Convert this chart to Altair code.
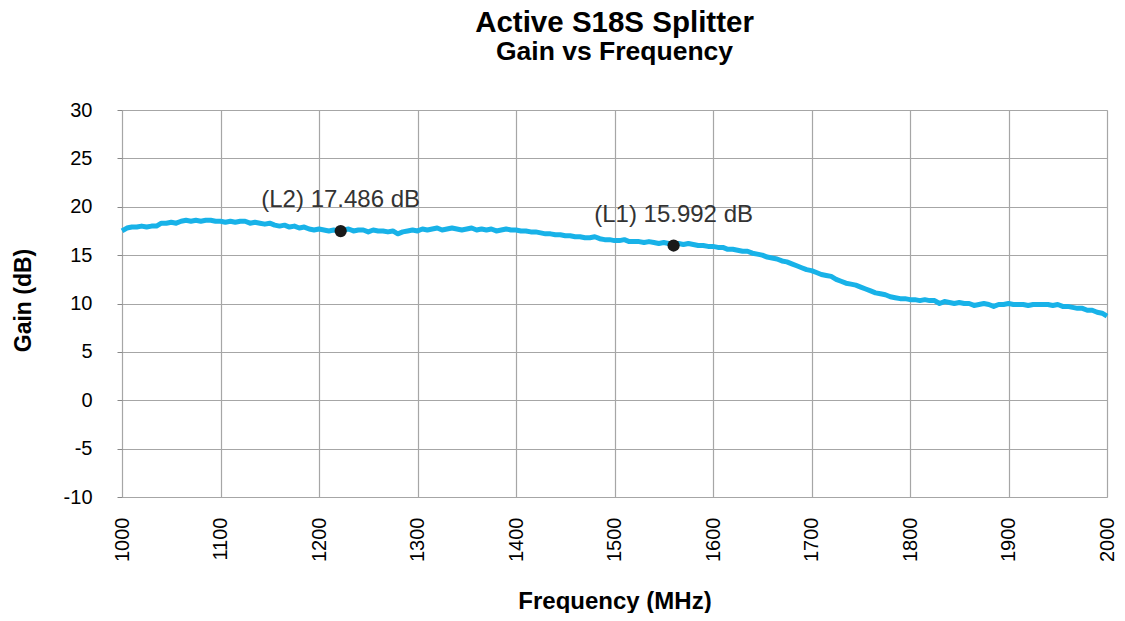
import altair as alt
import pandas as pd

freq = list(range(1000, 2001, 5))
gain = [
    # 1000-1100
    17.5, 17.8, 17.9, 17.9, 18.0, 17.9, 18.0, 18.0, 18.3, 18.3, 18.4,
    18.3, 18.5, 18.6, 18.5, 18.6, 18.5, 18.6, 18.6, 18.5, 18.5,
    # 1105-1200
    18.4, 18.5, 18.4, 18.5, 18.5, 18.3, 18.4, 18.3, 18.2, 18.3,
    18.1, 18.0, 18.1, 17.9, 18.0, 17.8, 17.9, 17.7, 17.6, 17.7,
    # 1205-1300
    17.6, 17.5, 17.6, 17.5, 17.6, 17.7, 17.5, 17.6, 17.6, 17.4,
    17.6, 17.5, 17.5, 17.4, 17.5, 17.2, 17.4, 17.5, 17.6, 17.5,
    # 1305-1400
    17.7, 17.6, 17.7, 17.8, 17.6, 17.7, 17.8, 17.7, 17.6, 17.7,
    17.8, 17.6, 17.7, 17.6, 17.7, 17.5, 17.6, 17.7, 17.6, 17.6,
    # 1405-1500
    17.5, 17.5, 17.4, 17.4, 17.3, 17.2, 17.2, 17.1, 17.1, 17.0,
    17.0, 16.9, 16.9, 16.8, 16.8, 16.9, 16.7, 16.6, 16.6, 16.5,
    # 1505-1600
    16.5, 16.6, 16.4, 16.4, 16.4, 16.3, 16.4, 16.3, 16.2, 16.3,
    16.2, 16.2, 16.2, 16.1, 16.2, 16.1, 16.0, 16.0, 15.9, 15.9,
    # 1605-1700
    15.8, 15.8, 15.6, 15.6, 15.5, 15.4, 15.4, 15.2, 15.1, 15.0,
    14.8, 14.7, 14.6, 14.4, 14.3, 14.1, 13.9, 13.7, 13.5, 13.4,
    # 1705-1800
    13.2, 13.0, 12.9, 12.8, 12.5, 12.3, 12.1, 12.0, 11.9, 11.7,
    11.5, 11.3, 11.1, 11.0, 10.9, 10.7, 10.6, 10.5, 10.5, 10.4,
    # 1805-1900
    10.4, 10.3, 10.4, 10.3, 10.3, 10.0, 10.2, 10.1, 10.0, 10.1,
    10.0, 10.0, 9.8, 9.9, 10.0, 9.9, 9.7, 9.9, 9.9, 10.0,
    # 1905-2000
    9.9, 9.9, 9.9, 9.8, 9.9, 9.9, 9.9, 9.9, 9.8, 9.9,
    9.7, 9.7, 9.6, 9.5, 9.5, 9.3, 9.3, 9.1, 9.0, 8.7,
]

marker_freq = [1222, 1560]
marker_gain = [17.486, 15.992]
marker_label = ["(L2) 17.486 dB", "(L1) 15.992 dB"]

x_ticks = list(range(1000, 2001, 100))
y_ticks = list(range(-10, 31, 5))

FONT = "Liberation Sans"

df = pd.DataFrame({"freq": freq, "gain": gain})
mk = pd.DataFrame({"freq": marker_freq, "gain": marker_gain, "label": marker_label})

xscale = alt.Scale(domain=[1000, 2000], nice=False, zero=False)
yscale = alt.Scale(domain=[-10, 30], nice=False, zero=False)

xaxis = alt.Axis(
    title="Frequency (MHz)", values=x_ticks, labelAngle=-90, labelPadding=20,
    labelFontSize=20, labelColor="#000", labelFont=FONT, ticks=False,
    labelExpr="'' + datum.value",
    titleFont=FONT, titleFontSize=24, titleFontWeight="bold", titleColor="#000",
    titleY=111, titleBaseline="alphabetic", domain=False,
    gridColor="#a6a6a6", gridWidth=1.2,
)
yaxis = alt.Axis(
    title="Gain (dB)", values=y_ticks, labelPadding=25, tickSize=5,
    tickColor="#888", labelFontSize=20, labelColor="#000", labelFont=FONT,
    labelExpr="'' + datum.value",
    titleFont=FONT, titleFontSize=23, titleFontWeight="bold", titleColor="#000",
    titleX=-99, titleY=190, titleBaseline="middle", titleAlign="center",
    domain=False, gridColor="#a6a6a6", gridWidth=1.2,
)

line = alt.Chart(df).mark_line(color="#18b2e8", strokeWidth=5, strokeJoin="round").encode(
    x=alt.X("freq:Q", scale=xscale, axis=xaxis),
    y=alt.Y("gain:Q", scale=yscale, axis=yaxis),
)

dots = alt.Chart(mk).mark_point(filled=True, color="#1a1a1a", size=150, opacity=1).encode(
    x=alt.X("freq:Q", scale=xscale),
    y=alt.Y("gain:Q", scale=yscale),
)

labels = alt.Chart(mk).mark_text(
    font=FONT, fontSize=24, color="#333", dy=-24, baseline="alphabetic", align="center"
).encode(
    x=alt.X("freq:Q", scale=xscale),
    y=alt.Y("gain:Q", scale=yscale),
    text="label:N",
)

chart = alt.layer(line, dots, labels).properties(
    width=985,
    height=387,
    title=alt.TitleParams(
        text="Active S18S Splitter",
        subtitle="Gain vs Frequency",
        font=FONT, fontSize=29.5, fontWeight="bold", color="#000",
        subtitleFont=FONT, subtitleFontSize=26.5, subtitleFontWeight="bold",
        subtitleColor="#000", subtitlePadding=0,
        anchor="middle", frame="group", offset=34,
    ),
    autosize=alt.AutoSizeParams(type="none"),
    padding={"left": 114, "top": 102, "right": 10, "bottom": 116},
).configure_view(
    stroke="#333", strokeWidth=2
).configure(background="white")

chart.save("out.html", embed_options={"renderer": "svg", "actions": False})
